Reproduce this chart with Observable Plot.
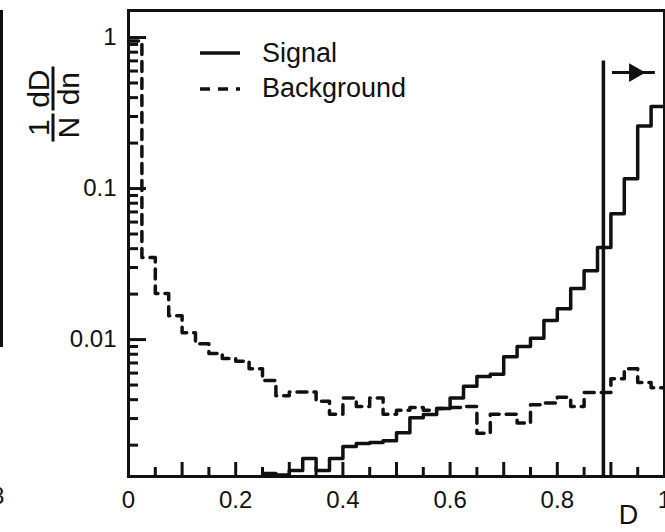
<!DOCTYPE html>
<html>
<head>
<meta charset="utf-8">
<script src="https://cdn.jsdelivr.net/npm/d3@7"></script>
<script src="https://cdn.jsdelivr.net/npm/@observablehq/plot@0.6"></script>
<style>
html, body { margin: 0; padding: 0; background: #fff; }
#wrap { position: relative; width: 665px; height: 532px; overflow: hidden;
  font-family: "Liberation Sans", Arial, Helvetica, sans-serif; color: #111; background: #fff; }
#wrap > svg { position: absolute; left: 0; top: 0; }
#wrap > svg.ticks { z-index: 3; pointer-events: none; background: none; }
.ov { position: absolute; white-space: nowrap; line-height: 27px; font-size: 27px; }
#ylab { position: absolute; left: 53px; top: 104px; transform: translate(-50%, -50%) rotate(-90deg);
  display: flex; align-items: center; gap: 9px; font-size: 30px; line-height: 25px; }
.frac { display: inline-flex; flex-direction: column; align-items: center; }
.frac .bar { align-self: stretch; height: 3px; background: #111; margin: 1px -3px; }
#nb-line { position: absolute; left: 0; top: 10px; width: 3px; height: 337px; background: #111; }
#nb-text { position: absolute; left: -9px; top: 484px; font-size: 24px; line-height: 24px; }
</style>
</head>
<body>
<div id="wrap"></div>
<script>
// ---- data ----
const binLeft = [0, 0.025, 0.05, 0.075, 0.1, 0.125, 0.15, 0.175, 0.2, 0.225,
  0.25, 0.275, 0.3, 0.325, 0.35, 0.375, 0.4, 0.425, 0.45, 0.475,
  0.5, 0.525, 0.55, 0.575, 0.6, 0.625, 0.65, 0.675, 0.7, 0.725,
  0.75, 0.775, 0.8, 0.825, 0.85, 0.875, 0.9, 0.925, 0.95, 0.975];
const binEnd = 1;
const signal = [null, null, null, null, null, null, null, null, null, null,
  0.0013, 0.00127, 0.00136, 0.00163, 0.00136, 0.00163, 0.00196, 0.00205, 0.00208, 0.00214,
  0.00242, 0.00304, 0.00319, 0.0035, 0.0041, 0.0049, 0.0057, 0.0059, 0.0077, 0.009,
  0.0102, 0.0134, 0.016, 0.0218, 0.0286, 0.0407, 0.068, 0.116, 0.26, 0.35];
const background = [0.95, 0.035, 0.0202, 0.0144, 0.0111, 0.0094, 0.0081, 0.0075, 0.0072, 0.0064,
  0.00535, 0.00425, 0.0045, 0.0045, 0.0039, 0.0032, 0.0041, 0.0036, 0.0041, 0.0032,
  0.0034, 0.00355, 0.0034, 0.0035, 0.00355, 0.0036, 0.0024, 0.0032, 0.0032, 0.0028,
  0.0037, 0.0038, 0.00415, 0.0036, 0.00446, 0.00446, 0.0055, 0.0064, 0.0052, 0.0048];
const cutX = [0.886];
const cutTop = [0.70];
const arrowY = [0.586];
const arrowX1 = [0.903];
const arrowX2 = [0.983];
const arrowHeadX = [0.944];
const xDomain = [0, 1];
const yDomain = [0.00124, 1.51];
const xLabelTicks = [0, 0.2, 0.4, 0.6, 0.8, 1];
const xMajorTicks = [0.1, 0.2, 0.3, 0.4, 0.5, 0.6, 0.7, 0.8, 0.9];
const xMinorTicks = [0.05, 0.15, 0.25, 0.35, 0.45, 0.55, 0.65, 0.75, 0.85, 0.95];
const yLabelTicks = [0.01, 0.1, 1];
const yMinorTicks = [0.002, 0.003, 0.004, 0.005, 0.006, 0.007, 0.008, 0.009,
  0.02, 0.03, 0.04, 0.05, 0.06, 0.07, 0.08, 0.09,
  0.2, 0.3, 0.4, 0.5, 0.6, 0.7, 0.8, 0.9];
const seriesNames = ["Signal", "Background"];
const xTitle = "D";

// ---- tables built from the arrays ----
const toSteps = (vals) => binLeft.map((x, i) => ({x, y: vals[i]}))
  .concat([{x: binEnd, y: vals[vals.length - 1]}]);
const sigRows = toSteps(signal);
const bkgRows = toSteps(background);

// ---- layout ----
const W = 665, H = 532, mL = 128, mR = 1, mT = 10, mB = 56;
const ink = "#111";
const blank = () => "";
const baseOpts = {
  width: W, height: H,
  marginLeft: mL, marginRight: mR, marginTop: mT, marginBottom: mB,
  x: { domain: xDomain },
  y: { type: "log", domain: yDomain }
};

const chart = Plot.plot({
  ...baseOpts,
  style: { fontFamily: "'Liberation Sans', Arial, Helvetica, sans-serif", fontSize: "24px", color: ink, background: "#fff", overflow: "visible" },
  marks: [
    Plot.line(bkgRows, { x: "x", y: "y", curve: "step-after", stroke: ink, strokeWidth: 3.5, strokeDasharray: "10,7" }),
    Plot.line(sigRows, { x: "x", y: "y", curve: "step-after", stroke: ink, strokeWidth: 3.5 }),
    Plot.ruleX(cutX, { x: d => d, y1: yDomain[0], y2: cutTop[0], stroke: ink, strokeWidth: 3.5 }),
    Plot.ruleY(arrowY, { y: d => d, x1: arrowX1[0], x2: arrowX2[0], stroke: ink, strokeWidth: 3 }),
    Plot.dot(arrowHeadX, { x: d => d, y: arrowY[0], symbol: "triangle", rotate: 90, r: 6, fill: ink, stroke: ink }),
    Plot.axisX({ ticks: xLabelTicks, tickSize: 0, tickPadding: 14, tickFormat: d => String(d), label: null, fontSize: 24 }),
    Plot.axisY({ ticks: yLabelTicks, tickSize: 0, tickPadding: 12, tickFormat: d => String(d), label: null, fontSize: 24 }),
    Plot.text([xTitle], { text: d => d, frameAnchor: "bottom-right", textAnchor: "middle", lineAnchor: "middle", dx: -36, dy: 39, fontSize: 27, fill: ink }),
    Plot.frame({ stroke: ink, strokeWidth: 3 })
  ]
});

// inward ticks, drawn by a second plot with the same scales laid over the first
const ticks = Plot.plot({
  ...baseOpts,
  style: { color: ink, background: "none", overflow: "visible" },
  marks: [
    Plot.axisX({ ticks: xMajorTicks, tickSize: 14, dy: -14, tickFormat: blank, label: null, strokeWidth: 3 }),
    Plot.axisX({ ticks: xMinorTicks, tickSize: 9, dy: -9, tickFormat: blank, label: null, strokeWidth: 3 }),
    Plot.axisY({ ticks: yLabelTicks, tickSize: 18, dx: 18, tickFormat: blank, label: null, strokeWidth: 3 }),
    Plot.axisY({ ticks: yMinorTicks, tickSize: 10, dx: 10, tickFormat: blank, label: null, strokeWidth: 3 })
  ]
});
ticks.classList.add("ticks");

const wrap = document.getElementById("wrap");
wrap.appendChild(chart);
wrap.appendChild(ticks);

// y-axis title (stacked fractions, rotated)
const ylab = document.createElement("div");
ylab.id = "ylab";
ylab.innerHTML = '<span class="frac"><span>1</span><span class="bar"></span><span>N</span></span>' +
                 '<span class="frac"><span>dD</span><span class="bar"></span><span>dn</span></span>';
wrap.appendChild(ylab);

// legend
const leg = [
  { name: seriesNames[0], y: 53, top: 40, dash: null },
  { name: seriesNames[1], y: 89, top: 75, dash: "10,8" }
];
leg.forEach(l => {
  const s = document.createElementNS("http://www.w3.org/2000/svg", "svg");
  s.setAttribute("width", 42); s.setAttribute("height", 8);
  s.style.position = "absolute"; s.style.left = "199px"; s.style.top = (l.y - 4) + "px";
  const ln = document.createElementNS("http://www.w3.org/2000/svg", "line");
  ln.setAttribute("x1", 1); ln.setAttribute("x2", 41); ln.setAttribute("y1", 4); ln.setAttribute("y2", 4);
  ln.setAttribute("stroke", ink); ln.setAttribute("stroke-width", 3.5);
  if (l.dash) ln.setAttribute("stroke-dasharray", l.dash);
  s.appendChild(ln);
  wrap.appendChild(s);
  const t = document.createElement("div");
  t.className = "ov"; t.style.left = "262px"; t.style.top = l.top + "px";
  t.textContent = l.name;
  wrap.appendChild(t);
});

// fragment of the neighbouring panel at the left edge
const nbl = document.createElement("div"); nbl.id = "nb-line"; wrap.appendChild(nbl);
const nbt = document.createElement("div"); nbt.id = "nb-text"; nbt.textContent = "8"; wrap.appendChild(nbt);
</script>
</body>
</html>
